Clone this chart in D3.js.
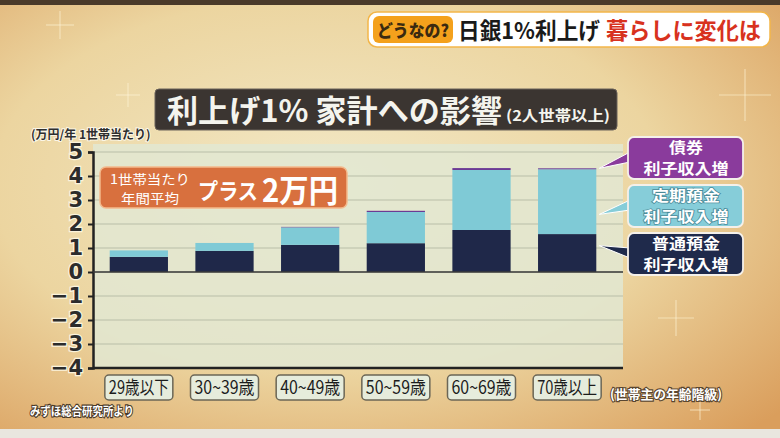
<!DOCTYPE html>
<html>
<head>
<meta charset="utf-8">
<script src="https://cdn.jsdelivr.net/npm/d3@7"></script>
<style>
  html, body { margin: 0; padding: 0; background: #000; }
  svg { display: block; font-family: "Noto Sans CJK JP", "Noto Sans", sans-serif; }
</style>
</head>
<body>
<svg id="chart" width="780" height="438"></svg>
<script>
const width = 780;
const height = 438;

// data (万円/年)
const ageGroups = ["29歳以下", "30~39歳", "40~49歳", "50~59歳", "60~69歳", "70歳以上"];
const ordinaryDeposit = [0.63, 0.88, 1.13, 1.20, 1.75, 1.58];
const timeDeposit = [0.27, 0.33, 0.73, 1.30, 2.50, 2.70];
const bonds = [0.00, 0.00, 0.02, 0.05, 0.08, 0.04];
const yTicks = [5, 4, 3, 2, 1, 0, -1, -2, -3, -4];

const seriesKeys = ["ordinary", "time", "bond"];
const seriesColors = { ordinary: "#1f2849", time: "#7fcad6", bond: "#6c3a94" };
const legendItems = [
  { key: "bond", lines: ["債券", "利子収入増"], fill: "#8a3b9c", tip: d => d.total },
  { key: "time", lines: ["定期預金", "利子収入増"], fill: "#86cdd9", tip: () => 2.4 },
  { key: "ordinary", lines: ["普通預金", "利子収入増"], fill: "#1f2a4b", tip: () => 1.1 }
];

const rows = ageGroups.map((g, i) => ({
  group: g,
  ordinary: ordinaryDeposit[i],
  time: timeDeposit[i],
  bond: bonds[i],
  total: ordinaryDeposit[i] + timeDeposit[i] + bonds[i]
}));

const svg = d3.select("#chart");
const defs = svg.append("defs");

// background
const bg = defs.append("radialGradient").attr("id", "bg")
  .attr("cx", "0.42").attr("cy", "0.42").attr("r", "0.78");
bg.append("stop").attr("offset", "0").attr("stop-color", "#f2e8c6");
bg.append("stop").attr("offset", "0.55").attr("stop-color", "#ecd5a0");
bg.append("stop").attr("offset", "1").attr("stop-color", "#da9e5c");
svg.append("rect").attr("width", width).attr("height", height).attr("fill", "url(#bg)");
svg.append("rect").attr("width", width).attr("height", 5).attr("fill", "#4a3a2a");
svg.append("rect").attr("y", 429).attr("width", width).attr("height", 9).attr("fill", "#e9e6df");

// faint sparkles
[[60, 25, 14], [128, 95, 12], [745, 95, 26], [676, 318, 18], [700, 410, 10]].forEach(([x, y, s]) => {
  const g = svg.append("g").attr("stroke", "#fff6d8").attr("stroke-opacity", 0.55).attr("stroke-width", 1.2);
  g.append("line").attr("x1", x - s).attr("x2", x + s).attr("y1", y).attr("y2", y);
  g.append("line").attr("x1", x).attr("x2", x).attr("y1", y - s).attr("y2", y + s);
});

// header
const hdr = svg.append("g");
hdr.append("rect").attr("x", 368).attr("y", 12).attr("width", 402).attr("height", 35).attr("rx", 9)
  .attr("fill", "#fff").attr("stroke", "#f3b64a").attr("stroke-width", 1.5);
hdr.append("rect").attr("x", 373).attr("y", 16).attr("width", 80).attr("height", 27).attr("rx", 6)
  .attr("fill", "#f4a11c");
hdr.append("text").attr("x", 413).attr("y", 37).attr("text-anchor", "middle")
  .attr("font-size", 17).attr("font-weight", 900).attr("fill", "#3a2a10")
  .attr("textLength", 72).attr("lengthAdjust", "spacingAndGlyphs").text("どうなの?");
hdr.append("text").attr("x", 458).attr("y", 39).attr("font-size", 23).attr("font-weight", 700)
  .attr("fill", "#1a1a1a").attr("textLength", 142).attr("lengthAdjust", "spacingAndGlyphs").text("日銀1%利上げ");
hdr.append("text").attr("x", 606).attr("y", 39).attr("font-size", 23).attr("font-weight", 700)
  .attr("fill", "#d8321e").attr("textLength", 155).attr("lengthAdjust", "spacingAndGlyphs").text("暮らしに変化は");

// title
svg.append("rect").attr("x", 155).attr("y", 89).attr("width", 462).attr("height", 41).attr("rx", 4)
  .attr("fill", "#3b3531").attr("stroke", "#6a625a");
svg.append("text").attr("x", 167).attr("y", 122).attr("font-size", 31).attr("font-weight", 700)
  .attr("fill", "#f4f4ee").attr("textLength", 335).attr("lengthAdjust", "spacingAndGlyphs")
  .text("利上げ1% 家計への影響");
svg.append("text").attr("x", 506).attr("y", 121).attr("font-size", 15).attr("font-weight", 700)
  .attr("fill", "#f4f4ee").attr("textLength", 104).attr("lengthAdjust", "spacingAndGlyphs")
  .text("(2人世帯以上)");

// scales
const plot = { left: 93, right: 623, top: 152, bottom: 368 };
const x = d3.scaleBand().domain(ageGroups).range([96, 610]).paddingInner(0.32).paddingOuter(0.16);
const y = d3.scaleLinear().domain([-4, 5]).range([plot.bottom, plot.top]);

// plot panel
svg.append("rect").attr("x", plot.left).attr("y", 144).attr("width", plot.right - plot.left)
  .attr("height", plot.bottom - 144).attr("fill", "#e2e8d2").attr("opacity", 0.85);

// grid
svg.append("g").selectAll("line").data(yTicks).join("line")
  .attr("x1", plot.left).attr("x2", plot.right)
  .attr("y1", d => y(d)).attr("y2", d => y(d))
  .attr("stroke", "#b9bea8").attr("stroke-width", 1);

// y label
svg.append("text").attr("x", 31).attr("y", 139).attr("font-size", 12).attr("font-weight", 700)
  .attr("fill", "#2e2e2e").attr("stroke", "#fbf6e6").attr("stroke-width", 2).attr("paint-order", "stroke")
  .text("(万円/年 1世帯当たり)");

// stacked bars
const stack = d3.stack().keys(seriesKeys)(rows);
svg.append("g").selectAll("g").data(stack).join("g")
  .attr("fill", d => seriesColors[d.key])
  .selectAll("rect").data(d => d).join("rect")
  .attr("x", d => x(d.data.group))
  .attr("width", x.bandwidth())
  .attr("y", d => y(d[1]))
  .attr("height", d => Math.max(0, y(d[0]) - y(d[1])));

// axes
const yAxis = svg.append("g").attr("transform", `translate(${plot.left},0)`)
  .call(d3.axisLeft(y).tickValues(yTicks).tickSize(5).tickPadding(5)
    .tickFormat(d => d < 0 ? "−" + Math.abs(d) : d));
yAxis.select(".domain").attr("stroke", "#222").attr("stroke-width", 2.5);
yAxis.selectAll(".tick line").attr("stroke", "#222").attr("stroke-width", 2);
yAxis.selectAll(".tick text").attr("font-size", 21).attr("font-weight", 700)
  .attr("font-family", "'DejaVu Sans', sans-serif")
  .attr("fill", "#2c2c2c").attr("stroke", "#fbf3dc").attr("stroke-width", 2.5)
  .attr("paint-order", "stroke");

svg.append("line").attr("x1", plot.left).attr("x2", plot.right)
  .attr("y1", y(-4)).attr("y2", y(-4)).attr("stroke", "#222").attr("stroke-width", 2.5);
svg.append("line").attr("x1", plot.left).attr("x2", plot.right)
  .attr("y1", y(0)).attr("y2", y(0)).attr("stroke", "#3a3a3a").attr("stroke-width", 1.5);

// category label boxes
const cat = svg.append("g").selectAll("g").data(ageGroups).join("g")
  .attr("transform", d => `translate(${x(d) + x.bandwidth() / 2},387)`);
cat.append("rect").attr("x", -34).attr("y", -12).attr("width", 68).attr("height", 25).attr("rx", 4)
  .attr("fill", "#e6ecdc").attr("stroke", "#6b6656").attr("stroke-width", 1.5);
cat.append("text").attr("text-anchor", "middle").attr("y", 7).attr("font-size", 18)
  .attr("fill", "#1c1c1c").attr("textLength", 60).attr("lengthAdjust", "spacingAndGlyphs")
  .text(d => d);

svg.append("text").attr("x", 610).attr("y", 399).attr("font-size", 13).attr("font-weight", 700)
  .attr("fill", "#fff").attr("stroke", "#5a4630").attr("stroke-width", 2.2).attr("paint-order", "stroke")
  .attr("textLength", 112).attr("lengthAdjust", "spacingAndGlyphs").text("(世帯主の年齢階級)");

svg.append("text").attr("x", 30).attr("y", 416).attr("font-size", 12).attr("font-weight", 700)
  .attr("fill", "#fff").attr("stroke", "#4a3a28").attr("stroke-width", 2.2).attr("paint-order", "stroke")
  .attr("textLength", 104).attr("lengthAdjust", "spacingAndGlyphs").text("みずほ総合研究所より");

// orange annotation
const note = svg.append("g");
note.append("rect").attr("x", 100).attr("y", 167).attr("width", 247).attr("height", 41).attr("rx", 6)
  .attr("fill", "#d8703e").attr("stroke", "#f3b98c").attr("stroke-width", 1.5);
note.append("text").attr("x", 150).attr("y", 184).attr("text-anchor", "middle").attr("font-size", 13)
  .attr("fill", "#fff").attr("textLength", 80).attr("lengthAdjust", "spacingAndGlyphs").text("1世帯当たり");
note.append("text").attr("x", 150).attr("y", 203).attr("text-anchor", "middle").attr("font-size", 13)
  .attr("fill", "#fff").attr("textLength", 58).attr("lengthAdjust", "spacingAndGlyphs").text("年間平均");
note.append("text").attr("x", 198).attr("y", 199).attr("font-size", 22).attr("font-weight", 700)
  .attr("fill", "#fff").attr("textLength", 60).attr("lengthAdjust", "spacingAndGlyphs").text("プラス");
note.append("text").attr("x", 262).attr("y", 202).attr("font-size", 32).attr("font-weight", 700)
  .attr("fill", "#fff").attr("textLength", 76).attr("lengthAdjust", "spacingAndGlyphs").text("2万円");

// legend callouts pointing at the last bar
const last = rows[rows.length - 1];
const tipX = x(last.group) + x.bandwidth() + 3;
const legTop = [137, 185, 233];
const legend = svg.append("g").selectAll("g").data(legendItems).join("g");
legend.append("path")
  .attr("d", (d, i) => {
    const ty = y(d.tip(last));
    const by = legTop[i] + 21;
    return `M${tipX},${ty} L630,${by - 6} L630,${by + 4} Z`;
  })
  .attr("fill", d => d.fill).attr("stroke", "#fff").attr("stroke-width", 1);
legend.append("rect").attr("x", 628).attr("y", (d, i) => legTop[i]).attr("width", 115).attr("height", 42)
  .attr("rx", 6).attr("fill", d => d.fill).attr("stroke", "#f4f0ea").attr("stroke-width", 1.8);
legend.each(function (d, i) {
  const g = d3.select(this);
  d.lines.forEach((line, j) => {
    g.append("text").attr("x", 686).attr("y", legTop[i] + 16 + j * 21).attr("text-anchor", "middle")
      .attr("font-size", 14.5).attr("font-weight", 700).attr("fill", "#fff")
      .attr("textLength", line.length * 17).attr("lengthAdjust", "spacingAndGlyphs")
      .attr("stroke", d.key === "time" ? "#4a8a98" : "none").attr("stroke-width", 1.5)
      .attr("paint-order", "stroke").text(line);
  });
});
</script>
</body>
</html>
